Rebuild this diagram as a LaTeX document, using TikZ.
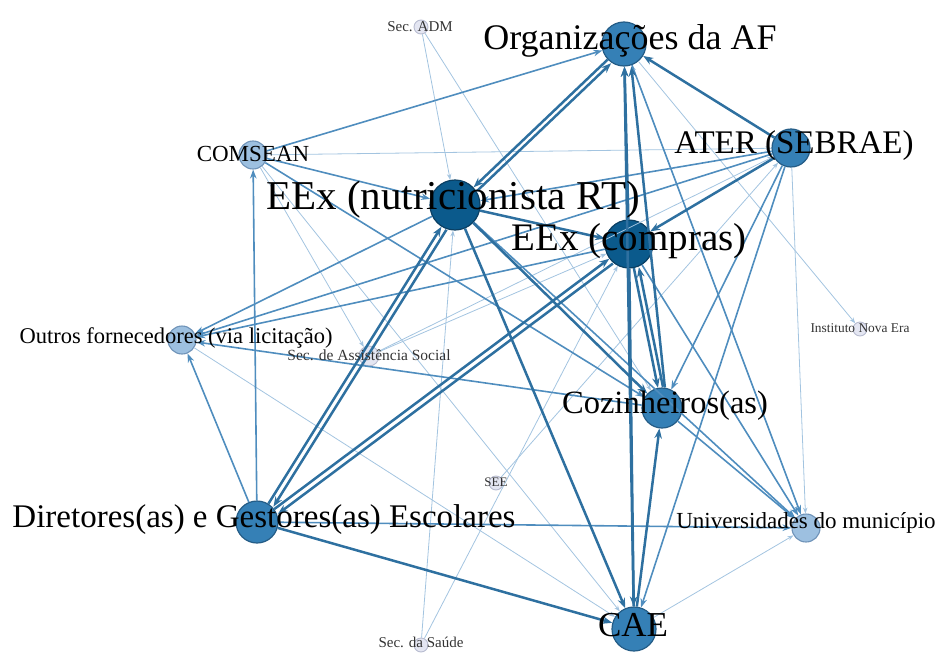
\documentclass[tikz,border=0pt]{standalone}
\usepackage{fontspec}
\setmainfont{Liberation Serif}
\usetikzlibrary{arrows.meta}
\definecolor{cDark}{HTML}{0B5A8C}
\definecolor{cDarkB}{HTML}{0A3F63}
\definecolor{cMid}{HTML}{3580B6}
\definecolor{cMidB}{HTML}{245C86}
\definecolor{cLight}{HTML}{9DC0E0}
\definecolor{cLightB}{HTML}{6F93B8}
\definecolor{cTiny}{HTML}{E4E6F2}
\definecolor{cTinyB}{HTML}{B8BCD0}
\definecolor{cE1}{HTML}{2E70A0}
\definecolor{cE2}{HTML}{4F8DBE}
\definecolor{cE3}{HTML}{A3C4E0}
\tikzset{
  darknode/.style={circle, inner sep=0pt, fill=cDark, draw=cDarkB, line width=1.2pt, minimum size=#1},
  midnode/.style={circle, inner sep=0pt, fill=cMid, draw=cMidB, line width=1.2pt, minimum size=#1},
  lightnode/.style={circle, inner sep=0pt, fill=cLight, draw=cLightB, line width=1.1pt, minimum size=#1},
  tinynode/.style={circle, inner sep=0pt, fill=cTiny, draw=cTinyB, line width=0.9pt, minimum size=#1},
  ethick/.style={draw=cE1, line width=2.5pt, -{Stealth[length=10pt,width=7.5pt]}},
  emid/.style={draw=cE2, line width=1.6pt, -{Stealth[length=9pt,width=6.5pt]}},
  ethin/.style={draw=cE3, line width=0.8pt, -{Stealth[length=6pt,width=4.5pt]}},
  rev/.style={transform canvas={shift={(#1)}}},
  lbl/.style={font=\fontsize{#1}{#1}\selectfont, inner sep=0pt, text=black},
  slbl/.style={font=\fontsize{#1}{#1}\selectfont, inner sep=0pt, text=black!80}
}
\begin{document}
\begin{tikzpicture}[x=1pt,y=-1pt]
\useasboundingbox (0,0) rectangle (937,653);
% nodes (circles)
\node[tinynode=14pt]  (ADM)  at (421,27)  {};
\node[midnode=44pt]   (ORG)  at (624,44)  {};
\node[lightnode=28pt] (COM)  at (253,155) {};
\node[midnode=38pt]   (ATER) at (791,148) {};
\node[darknode=50pt]  (NUT)  at (455,205) {};
\node[darknode=48pt]  (COMP) at (629,244) {};
\node[lightnode=28pt] (OUT)  at (182,340) {};
\node[tinynode=20pt]  (SAS)  at (369,356) {};
\node[tinynode=14pt]  (INE)  at (860,329) {};
\node[midnode=40pt]   (COZ)  at (662,408) {};
\node[tinynode=14pt]  (SEE)  at (496,483) {};
\node[midnode=42pt]   (DIR)  at (257,522) {};
\node[lightnode=28pt] (UNI)  at (806,528) {};
\node[midnode=44pt]   (CAE)  at (634,629) {};
\node[tinynode=14pt]  (SAU)  at (421,645) {};
% thin edges
\draw[ethin] (COM) -- (ATER);
\draw[ethin] (ADM) -- (NUT);
\draw[ethin] (ADM) -- (COZ);
\draw[ethin] (SAU) -- (NUT);
\draw[ethin] (SAU) -- (COMP);
\draw[ethin] (OUT) -- (CAE);
\draw[ethin] (CAE) -- (UNI);
\draw[ethin] (ORG) -- (INE);
\draw[ethin] (ATER) -- (UNI);
\draw[ethin] (SAS) -- (ATER);
\draw[ethin] (SAS) -- (COMP);
\draw[ethin] (SEE) -- (ATER);
\draw[ethin] (COM) -- (SAS);
\draw[ethin] (UNI) -- (ORG);
\draw[ethin] (COM) -- (CAE);
% medium edges
\draw[emid] (COM) -- (ORG);
\draw[emid] (ATER) -- (NUT);
\draw[emid] (COM) -- (NUT);
\draw[emid] (DIR) -- (COM);
\draw[emid] (DIR) -- (OUT);
\draw[emid] (NUT) -- (OUT);
\draw[emid] (COMP) -- (OUT);
\draw[emid] (ATER) -- (OUT);
\draw[emid] (COZ) -- (OUT);
\draw[emid] (DIR) -- (UNI);
\draw[emid] (NUT) -- (UNI);
\draw[emid] (COMP) -- (UNI);
\draw[emid] (COZ) -- (UNI);
\draw[emid] (ATER) -- (COZ);
\draw[emid] (ATER) -- (CAE);
\draw[emid] (ORG) -- (UNI);
\draw[emid] (COM) -- (COZ);
% thick edges
\draw[ethick] (ATER) -- (ORG);
\draw[ethick, rev={3.5pt,-3.6pt}] (NUT) -- (ORG);
\draw[ethick] (ORG) -- (NUT);
\draw[ethick] (COMP) -- (ORG);
\draw[ethick, rev={5pt,0pt}] (COZ) -- (ORG);
\draw[ethick] (CAE) -- (ORG);
\draw[ethick] (DIR) -- (NUT);
\draw[ethick, rev={5pt,-3pt}] (NUT) -- (DIR);
\draw[ethick] (DIR) -- (COMP);
\draw[ethick, rev={3.6pt,-4.8pt}] (COMP) -- (DIR);
\draw[ethick] (NUT) -- (CAE);
\draw[ethick] (DIR) -- (CAE);
\draw[ethick] (NUT) -- (COZ);
\draw[ethick] (COMP) -- (COZ);
\draw[ethick, rev={5pt,1pt}] (COZ) -- (COMP);
\draw[ethick] (COMP) -- (CAE);
\draw[ethick] (CAE) -- (COZ);
\draw[ethick] (NUT) -- (COMP);
\draw[ethick] (ATER) -- (COMP);
% labels
\node[slbl=15]  (lADM)  at (420,27)  {Sec. ADM};
\node[lbl=36]   (lORG)  at (630,41)  {Organizações da AF};
\node[lbl=23]   (lCOM)  at (253,154) {COMSEAN};
\node[lbl=33]   (lATER) at (794,146) {ATER (SEBRAE)};
\node[lbl=41]   (lNUT)  at (453,200) {EEx (nutricionista RT)};
\node[lbl=39]   (lCOMP) at (629,241) {EEx (compras)};
\node[lbl=22.5] (lOUT)  at (176,338) {Outros fornecedores (via licitação)};
\node[slbl=15.5](lSAS)  at (369,355) {Sec. de Assistência Social};
\node[slbl=13.4](lINE)  at (860,328) {Instituto Nova Era};
\node[lbl=32.5] (lCOZ)  at (665,406) {Cozinheiros(as)};
\node[slbl=13]  (lSEE)  at (496,482) {SEE};
\node[lbl=33]   (lDIR)  at (264,520) {Diretores(as) e Gestores(as) Escolares};
\node[lbl=23]   (lUNI)  at (806,523) {Universidades do município};
\node[lbl=35]   (lCAE)  at (633,625) {CAE};
\node[slbl=15]  (lSAU)  at (421,642) {Sec. da Saúde};
\end{tikzpicture}
\end{document}
